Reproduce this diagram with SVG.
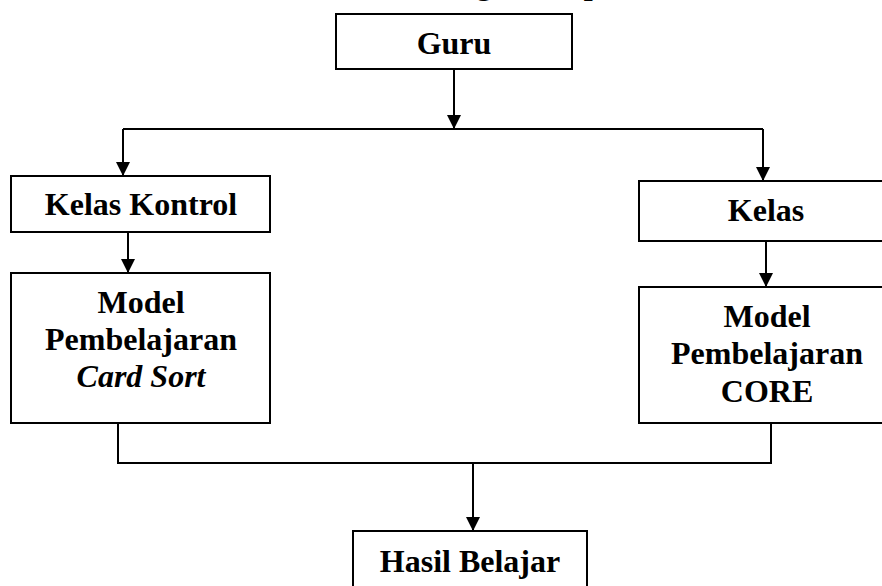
<svg xmlns="http://www.w3.org/2000/svg" width="882" height="586" viewBox="0 0 882 586">
<style>
.box{fill:#fff;stroke:#000;stroke-width:2}
.t{font-family:"Liberation Serif","Times New Roman",serif;font-weight:bold;font-size:32px;fill:#000;text-anchor:middle}
.i{font-style:italic}
.ln{fill:none;stroke:#000;stroke-width:2}
</style>
<defs>
<marker id="ah" viewBox="0 0 14 14" refX="14" refY="7" markerWidth="14" markerHeight="14" markerUnits="userSpaceOnUse" orient="auto">
<path d="M0,0 L14,7 L0,14 Z" fill="#000"/>
</marker>
</defs>
<rect width="882" height="586" fill="#fff"/>
<text class="t" x="389" y="-6" style="text-anchor:start">Kerangka Berpikir</text>
<g id="connectors">
<path class="ln" d="M454,69 V129" marker-end="url(#ah)"/>
<path class="ln" d="M123,129 H763"/>
<path class="ln" d="M123,129 V176" marker-end="url(#ah)"/>
<path class="ln" d="M763,129 V181" marker-end="url(#ah)"/>
<path class="ln" d="M128,232 V273" marker-end="url(#ah)"/>
<path class="ln" d="M766,241 V287" marker-end="url(#ah)"/>
<path class="ln" d="M118,423 V463 H771 V423"/>
<path class="ln" d="M473,463 V531" marker-end="url(#ah)"/>
</g>
<g id="guru">
<rect class="box" x="336" y="14" width="236" height="55"/>
<text class="t" x="454" y="54">Guru</text>
</g>
<g id="kelas-kontrol">
<rect class="box" x="11" y="176" width="259" height="56"/>
<text class="t" x="141" y="215">Kelas Kontrol</text>
</g>
<g id="model-card-sort">
<rect class="box" x="11" y="273" width="259" height="150"/>
<text class="t" x="141" y="313">Model</text>
<text class="t" x="141" y="350">Pembelajaran</text>
<text class="t i" x="141" y="387">Card Sort</text>
</g>
<g id="kelas">
<rect class="box" x="639" y="181" width="256" height="60"/>
<text class="t" x="766" y="221">Kelas</text>
</g>
<g id="model-core">
<rect class="box" x="639" y="287" width="256" height="136"/>
<text class="t" x="767" y="327">Model</text>
<text class="t" x="767" y="364">Pembelajaran</text>
<text class="t" x="767" y="402">CORE</text>
</g>
<g id="hasil-belajar">
<rect class="box" x="353" y="531" width="234" height="70"/>
<text class="t" x="470" y="572">Hasil Belajar</text>
</g>
</svg>
